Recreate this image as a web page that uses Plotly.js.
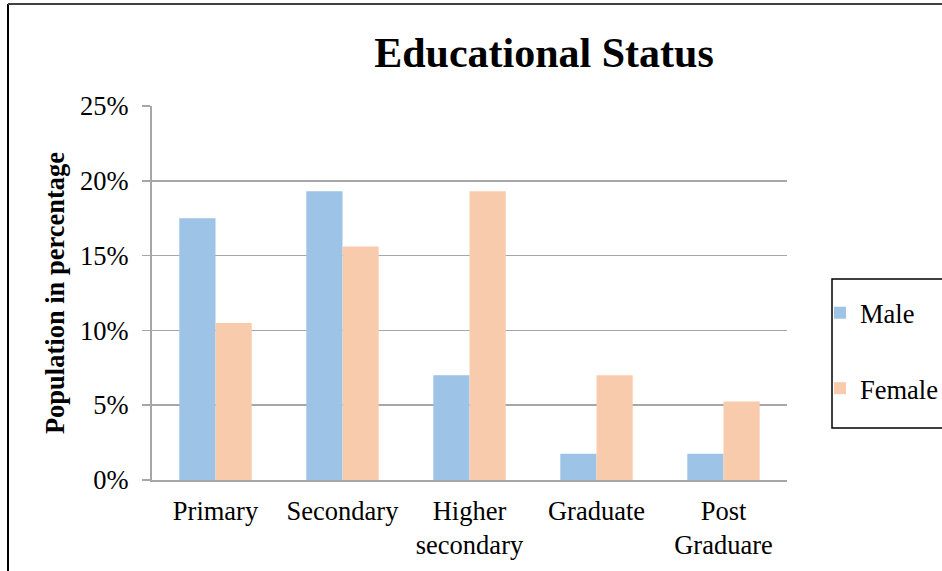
<!DOCTYPE html>
<html>
<head>
<meta charset="utf-8">
<script src="https://cdn.plot.ly/plotly-3.0.1.min.js"></script>
<style>
html,body{margin:0;padding:0;background:#fff;overflow:hidden;}
#chart{width:942px;height:571px;}
</style>
</head>
<body>
<div id="chart"></div>
<script>
var categories = ["Primary", "Secondary", "Higher<br>secondary", "Graduate", "Post<br>Graduare"];
var maleValues = [17.5, 19.3, 7.0, 1.75, 1.75];
var femaleValues = [10.5, 15.6, 19.3, 7.0, 5.25];
var yTickValues = [0, 5, 10, 15, 20, 25];
var yTickLabels = ["0%", "5%", "10%", "15%", "20%", "25%"];

var serif = "Liberation Serif, Times New Roman, serif";
var FS = 26.5;

var traces = [
  {type: "bar", name: "Male", x: categories, y: maleValues,
   marker: {color: "#9dc3e6"}, legendgroup: "m", hoverinfo: "x+y"},
  {type: "bar", name: "Female", x: categories, y: femaleValues,
   marker: {color: "#f8cbad"}, legendgroup: "f", hoverinfo: "x+y"}
];

var W = 942, H = 571, L = 152, R = 787, T = 106, B = 480;
var pw = R - L, ph = B - T;
function px(x){ return (x - L) / pw; }
function py(y){ return (B - y) / ph; }

var layout = {
  width: W, height: H,
  margin: {l: L, r: W - R, t: T, b: H - B, pad: 0, autoexpand: false},
  paper_bgcolor: "#ffffff",
  plot_bgcolor: "#ffffff",
  font: {family: serif, color: "#000000", size: FS},
  title: {
    text: "<b>Educational Status</b>",
    font: {family: serif, size: 42, color: "#000000"},
    xref: "container", yref: "container",
    x: 544 / W, y: 1 - 52 / H, xanchor: "center", yanchor: "middle"
  },
  barmode: "group",
  bargap: 0.43,
  bargroupgap: 0,
  xaxis: {
    type: "category",
    showgrid: false,
    showline: true, linecolor: "#a6a6a6", linewidth: 2,
    ticks: "", tickfont: {family: serif, size: FS, color: "#000000"},
    ticklabelstandoff: 6,
    fixedrange: true
  },
  yaxis: {
    range: [0, 25],
    tickvals: yTickValues, ticktext: yTickLabels,
    showgrid: true, gridcolor: "#a6a6a6", gridwidth: 1.5,
    showline: true, linecolor: "#a6a6a6", linewidth: 2,
    ticks: "outside", ticklen: 8, tickcolor: "#a6a6a6", tickwidth: 1.5,
    tickfont: {family: serif, size: FS, color: "#000000"},
    ticklabelstandoff: 8,
    zeroline: false,
    title: {text: "<b>Population in percentage</b>", font: {family: serif, size: FS, color: "#000000"}, standoff: 8},
    fixedrange: true
  },
  showlegend: true,
  legend: {
    x: px(832), y: py(289), xanchor: "left", yanchor: "top",
    bgcolor: "rgba(0,0,0,0)", borderwidth: 0,
    font: {family: serif, size: FS, color: "#000000"},
    tracegroupgap: 38,
    traceorder: "grouped",
    indentation: -12,
    itemwidth: 30
  },
  shapes: [
    {type: "line", xref: "paper", yref: "paper", x0: px(8), x1: px(8), y0: py(575), y1: py(4),
     line: {color: "#000000", width: 2}},
    {type: "line", xref: "paper", yref: "paper", x0: px(8), x1: px(950), y0: py(4), y1: py(4),
     line: {color: "#404040", width: 2}},
    {type: "rect", xref: "paper", yref: "paper", x0: px(832), x1: px(960), y0: py(428), y1: py(279),
     fillcolor: "#ffffff", line: {color: "#000000", width: 1.5}, layer: "above"}
  ]
};

Plotly.newPlot("chart", traces, layout, {displayModeBar: false, staticPlot: true});
</script>
</body>
</html>
